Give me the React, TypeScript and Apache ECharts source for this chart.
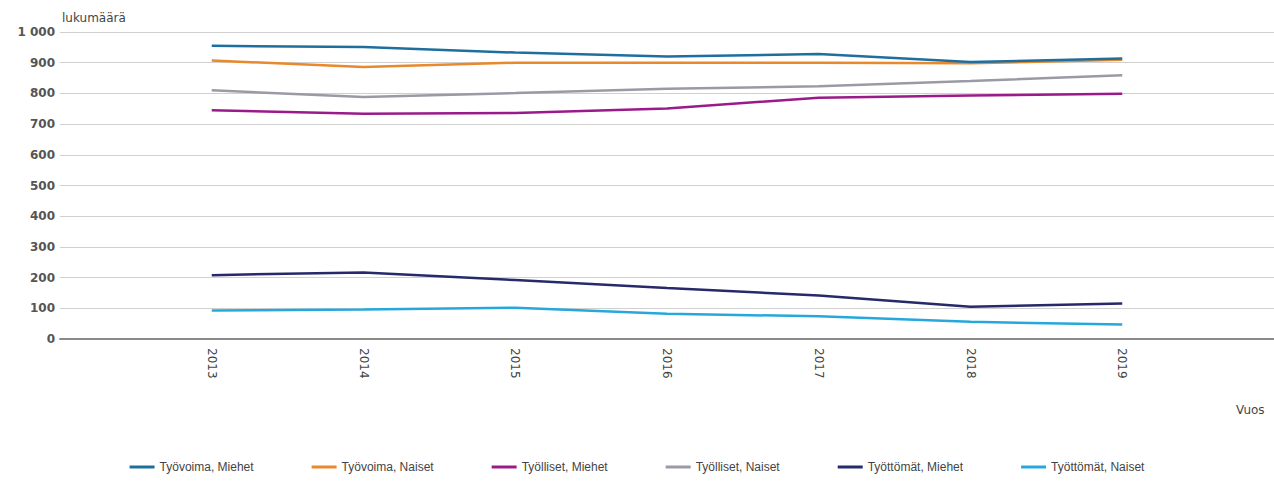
import React, { useEffect, useRef } from "react";
import * as echarts from "echarts";

const years = ["", "2013", "2014", "2015", "2016", "2017", "2018", "2019", ""];
const tyovoimaMiehet = [null, 955, 951, 933, 920, 928, 902, 914, null];
const tyovoimaNaiset = [null, 907, 886, 900, 900, 900, 898, 910, null];
const tyollisetMiehet = [null, 745, 734, 736, 751, 786, 793, 799, null];
const tyollisetNaiset = [null, 810, 788, 801, 815, 823, 840, 859, null];
const tyottomatMiehet = [null, 208, 217, 192, 166, 142, 105, 116, null];
const tyottomatNaiset = [null, 93, 96, 102, 82, 74, 56, 47, null];

const seriesNames = [
  "Työvoima, Miehet",
  "Työvoima, Naiset",
  "Työlliset, Miehet",
  "Työlliset, Naiset",
  "Työttömät, Miehet",
  "Työttömät, Naiset",
];
const seriesData = [
  tyovoimaMiehet,
  tyovoimaNaiset,
  tyollisetMiehet,
  tyollisetNaiset,
  tyottomatMiehet,
  tyottomatNaiset,
];
const colors = ["#1f6f9e", "#e8892c", "#9b1a8a", "#9a9aa6", "#262a6a", "#27a8dc"];

const FONT = "'DejaVu Sans', sans-serif";
const LEGEND_FONT = "'Liberation Sans', Arial, sans-serif";

export default function App() {
  const ref = useRef<HTMLDivElement>(null);
  useEffect(() => {
    if (!ref.current) return;
    const chart = echarts.init(ref.current, null, { renderer: "svg" });
    chart.setOption({
      animation: false,
      color: colors,
      grid: { left: 60, right: -6, top: 32, bottom: 147, containLabel: false },
      legend: {
        data: seriesNames,
        left: "center",
        top: 456,
        icon: "rect",
        itemWidth: 25,
        itemHeight: 3,
        itemGap: 58,
        textStyle: { fontFamily: LEGEND_FONT, fontSize: 12, color: "#444" },
      },
      xAxis: {
        type: "category",
        data: years,
        boundaryGap: false,
        axisLine: { show: true, lineStyle: { color: "#8a8a8a", width: 2 } },
        axisTick: { show: false },
        axisLabel: {
          rotate: -90,
          margin: 9,
          fontFamily: FONT,
          fontSize: 12,
          color: "#444",
          interval: 0,
        },
        splitLine: { show: false },
      },
      yAxis: {
        type: "value",
        min: 0,
        max: 1000,
        interval: 100,
        axisLine: { show: false },
        axisTick: { show: false },
        axisLabel: {
          margin: 5,
          fontFamily: FONT,
          fontSize: 12,
          fontWeight: "bold",
          color: "#555",
          formatter: (v: number) => (v >= 1000 ? "1 000" : String(v)),
        },
        splitLine: { lineStyle: { color: "#d0d0d0", width: 1 } },
      },
      graphic: [
        {
          type: "text",
          left: 62,
          top: 12,
          style: { text: "lukumäärä", font: `12px ${FONT}`, fill: "#444" },
        },
        {
          type: "text",
          left: 1236,
          top: 404,
          style: { text: "Vuos", font: `12px ${FONT}`, fill: "#444" },
        },
      ],
      series: seriesNames.map((name, i) => ({
        name,
        type: "line",
        data: seriesData[i],
        showSymbol: false,
        symbol: "none",
        lineStyle: { width: 2.5 },
        z: 10 - i,
      })),
    });
    return () => chart.dispose();
  }, []);
  return (
    <div
      ref={ref}
      style={{ position: "fixed", left: 0, top: 0, width: 1274, height: 486, background: "#fff" }}
    />
  );
}
